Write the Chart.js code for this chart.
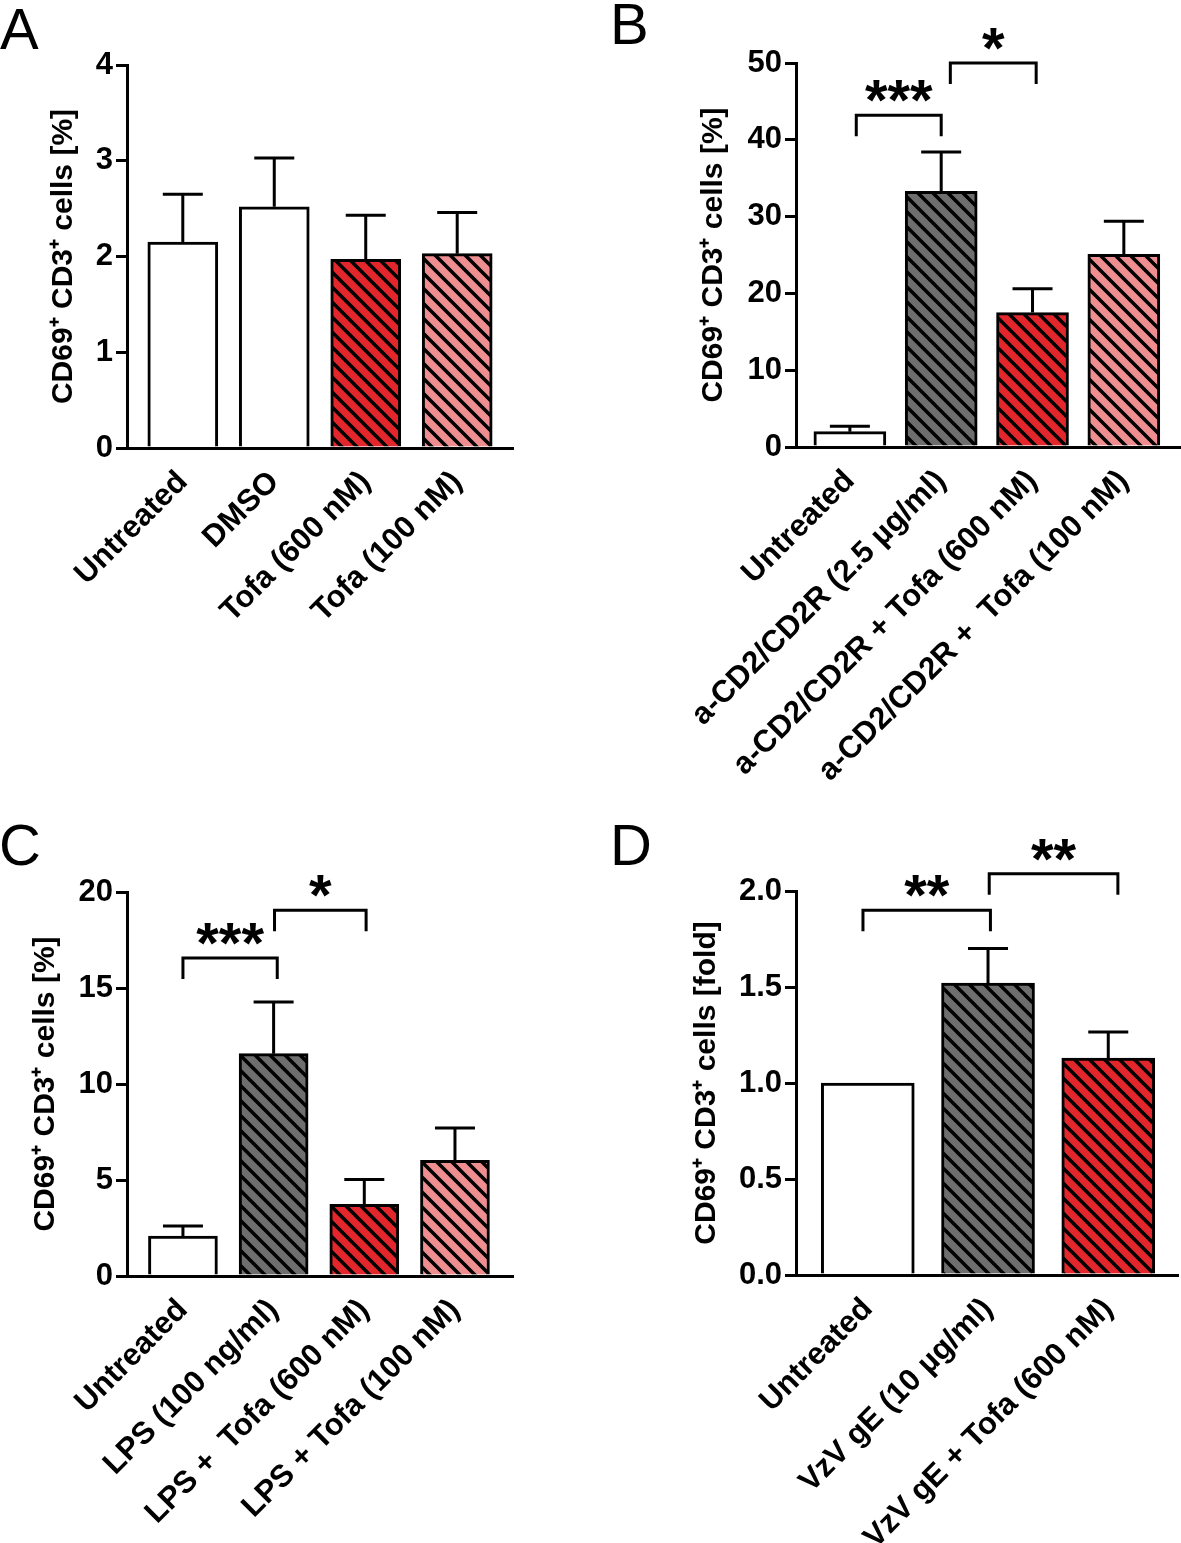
<!DOCTYPE html>
<html><head><meta charset="utf-8">
<script src="https://cdn.jsdelivr.net/npm/chart.js@4.4.1/dist/chart.umd.min.js"></script>
<style>
html,body{margin:0;padding:0;background:#fff;}
#wrap{position:relative;width:1181px;height:1543px;overflow:hidden;background:#fff;}
canvas{position:absolute;}
.lbl{position:absolute;font-family:"Liberation Sans",Arial,sans-serif;font-size:58px;line-height:58px;color:#000;}
</style></head><body>
<div id="wrap">
<canvas id="cA" width="590" height="650" style="left:0;top:0"></canvas>
<canvas id="cB" width="591" height="800" style="left:590px;top:0"></canvas>
<canvas id="cC" width="590" height="713" style="left:0;top:830px"></canvas>
<canvas id="cD" width="591" height="713" style="left:590px;top:830px"></canvas>
<div class="lbl" style="left:0px;top:0px">A</div>
<div class="lbl" style="left:610px;top:-5px">B</div>
<div class="lbl" style="left:-1px;top:816px">C</div>
<div class="lbl" style="left:610px;top:816px">D</div>
</div>
<script>
// ---------- data ----------
const catsA = ['Untreated', 'DMSO', 'Tofa (600 nM)', 'Tofa (100 nM)'];
const meanA = [2.15, 2.52, 1.97, 2.03];
const semA  = [0.50, 0.51, 0.46, 0.43];

const catsB = ['Untreated', 'a-CD2/CD2R (2.5 µg/ml)', 'a-CD2/CD2R + Tofa (600 nM)', 'a-CD2/CD2R +  Tofa (100 nM)'];
const meanB = [2.0, 33.3, 17.5, 25.1];
const semB  = [0.7, 5.1, 3.1, 4.3];
const brFromB = [0.07, 1.10];
const brToB   = [1.00, 2.04];
const brYB    = [43.2, 50.0];
const brTxtB  = ['***', '*'];

const catsC = ['Untreated', 'LPS (100 ng/ml)', 'LPS +  Tofa (600 nM)', 'LPS + Tofa (100 nM)'];
const meanC = [2.08, 11.58, 3.73, 6.03];
const semC  = [0.52, 2.69, 1.29, 1.68];
const brFromC = [0.00, 1.01];
const brToC   = [1.04, 2.02];
const brYC    = [16.56, 19.05];
const brTxtC  = ['***', '*'];

const catsD = ['Untreated', 'VzV gE (10 µg/ml)', 'VzV gE + Tofa (600 nM)'];
const meanD = [1.0, 1.52, 1.13];
const semD  = [0, 0.18, 0.135];
const brFromD = [-0.04, 1.01];
const brToD   = [1.02, 2.08];
const brYD    = [1.90, 2.09];
const brTxtD  = ['**', '**'];

const yTicksA = [0, 4, 1];
const yTicksB = [0, 50, 10];
const yTicksC = [0, 20, 5];
const yTicksD = [0, 2, 0.5];

// ---------- styles ----------
const FONT = '"Liberation Sans", Arial, Helvetica, sans-serif';
const GRAY = '#6e6e6e', RED = '#e3262b', PINK = '#ee8e90';
function hatch(bg){
  const P = 15, c = document.createElement('canvas'); c.width = P; c.height = P;
  const g = c.getContext('2d'); g.fillStyle = bg; g.fillRect(0,0,P,P);
  g.strokeStyle = '#000'; g.lineWidth = 3.5; g.beginPath();
  for (let k=-1;k<=1;k++){ g.moveTo(k*P-P,-P); g.lineTo(k*P+2*P,2*P); }
  g.stroke();
  return g.createPattern(c,'repeat');
}
const fillsA = ['#fff', '#fff', hatch(RED), hatch(PINK)];
const fillsB = ['#fff', hatch(GRAY), hatch(RED), hatch(PINK)];
const fillsC = ['#fff', hatch(GRAY), hatch(RED), hatch(PINK)];
const fillsD = ['#fff', hatch(GRAY), hatch(RED)];

const annot = {
  id: 'annot',
  afterDatasetsDraw(chart, args, o){
    const ctx = chart.ctx, xs = chart.scales.x, ys = chart.scales.y;
    const meta = chart.getDatasetMeta(0);
    ctx.save();
    ctx.strokeStyle = '#000'; ctx.lineWidth = 3; ctx.lineCap = 'butt';
    o.sem.forEach((s, i) => {
      if (!s) return;
      const bar = meta.data[i];
      const y1 = ys.getPixelForValue(o.mean[i] + s);
      ctx.beginPath();
      ctx.moveTo(bar.x, bar.y); ctx.lineTo(bar.x, y1);
      ctx.moveTo(bar.x - 20, y1); ctx.lineTo(bar.x + 20, y1);
      ctx.stroke();
    });
    if (o.from) {
      ctx.font = 'bold 58px ' + FONT; ctx.fillStyle = '#000'; ctx.textAlign = 'center'; ctx.textBaseline = 'alphabetic';
      o.from.forEach((f, i) => {
        const x1 = xs.getPixelForValue(f), x2 = xs.getPixelForValue(o.to[i]);
        const yt = ys.getPixelForValue(o.y[i]), leg = 21;
        ctx.beginPath();
        ctx.moveTo(x1, yt + leg); ctx.lineTo(x1, yt); ctx.lineTo(x2, yt); ctx.lineTo(x2, yt + leg);
        ctx.stroke();
        const m = ctx.measureText(o.txt[i]);
        const top = yt - 35;
        ctx.fillText(o.txt[i], (x1 + x2) / 2, top + m.actualBoundingBoxAscent);
      });
    }
    ctx.restore();
  }
};

function makeChart(id, cats, mean, sem, fills, yt, cfg){
  const tickFont = {family: FONT, size: 31, weight: 'bold'};
  return new Chart(document.getElementById(id), {
    type: 'bar',
    data: { datasets: [{
      data: mean.map((v, i) => ({x: i, y: v})),
      backgroundColor: fills, borderColor: '#000', borderWidth: 3,
      barThickness: cfg.bw, borderSkipped: 'bottom'
    }]},
    options: {
      responsive: false, animation: false, devicePixelRatio: 1, events: [],
      layout: { padding: { top: cfg.pt, right: cfg.pr, left: 0, bottom: 0 } },
      plugins: {
        legend: {display: false}, tooltip: {enabled: false},
        annot: { mean: mean, sem: sem, from: cfg.from, to: cfg.to, y: cfg.by, txt: cfg.txt }
      },
      scales: {
        x: {
          type: 'linear', min: cfg.xmin, max: cfg.xmax, offset: false,
          afterBuildTicks(s){ s.ticks = cats.map((_, i) => ({value: i})); },
          afterFit(s){ s.height = cfg.xh; },
          ticks: { autoSkip: false, minRotation: 45, maxRotation: 45, padding: 8, color: '#000', font: tickFont,
                   callback: (v) => cats[v] },
          grid: { display: false },
          border: { display: true, width: 3, color: '#000' }
        },
        y: {
          min: yt[0], max: yt[1],
          afterFit(s){ s.width = cfg.yw; },
          ticks: { stepSize: yt[2], padding: 3, color: '#000', font: tickFont,
                   callback: cfg.dec ? (v) => v.toFixed(1) : (v) => v },
          grid: { display: true, drawOnChartArea: false, drawTicks: true, tickLength: 11, lineWidth: 3, color: '#000' },
          border: { display: true, width: 3, color: '#000' },
          title: { display: true, text: cfg.title, color: '#000', font: {family: FONT, size: 30, weight: 'bold'},
                   padding: {top: cfg.tp, bottom: 0} }
        }
      }
    },
    plugins: [annot]
  });
}

makeChart('cA', catsA, meanA, semA, fillsA, yTicksA,
  {bw: 70, pt: 65, pr: 77, xh: 202, yw: 127, xmin: -0.61, xmax: 3.61, tp: 46, title: 'CD69⁺ CD3⁺ cells [%]'});
makeChart('cB', catsB, meanB, semB, fillsB, yTicksB,
  {bw: 72, pt: 63, pr: 1, xh: 353, yw: 206, xmin: -0.59, xmax: 3.615, tp: 106, title: 'CD69⁺ CD3⁺ cells [%]',
   from: brFromB, to: brToB, by: brYB, txt: brTxtB});
makeChart('cC', catsC, meanC, semC, fillsC, yTicksC,
  {bw: 69, pt: 62, pr: 77, xh: 267, yw: 127, xmin: -0.617, xmax: 3.64, tp: 28, title: 'CD69⁺ CD3⁺ cells [%]',
   from: brFromC, to: brToC, by: brYC, txt: brTxtC});
makeChart('cD', catsD, meanD, semD, fillsD, yTicksD,
  {bw: 93, pt: 61, pr: 3, xh: 268, yw: 206, xmin: -0.597, xmax: 2.58, tp: 99, dec: true, title: 'CD69⁺ CD3⁺ cells [fold]',
   from: brFromD, to: brToD, by: brYD, txt: brTxtD});
</script>
</body></html>
